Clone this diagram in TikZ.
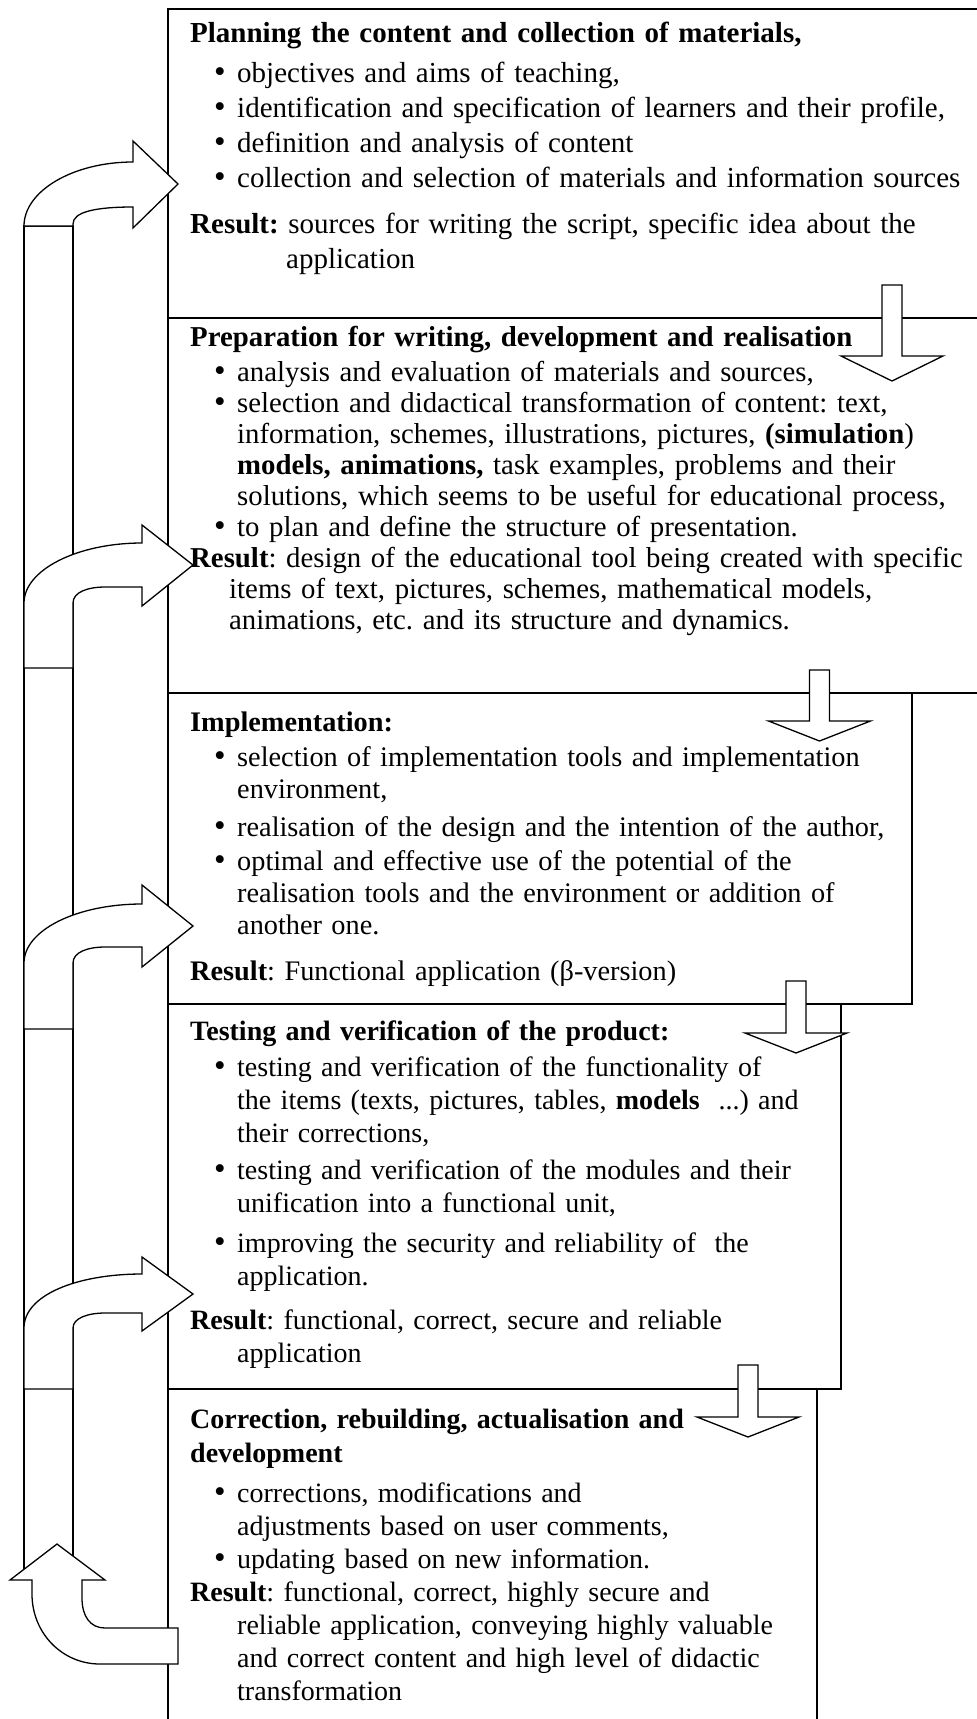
\documentclass[tikz,border=0pt]{standalone}
\usepackage{fontspec}
\setmainfont{Liberation Serif}

\newcommand\bl{\hspace*{24pt}\makebox[23pt][l]{\fontsize{33}{0}\selectfont\textbullet}}
\newcommand\cl{\hspace*{47pt}}
% hollow block arrow pointing down: x centre, shaft top, head base, tip
\newcommand\dropdown[4]{%
  \draw[hollow] (#1-10,#2) -- (#1+10,#2) -- (#1+10,#3) -- (#1+51,#3)
    -- (#1,#4) -- (#1-51,#3) -- (#1-10,#3) -- cycle;}

\tikzset{
  box/.style={line width=1.3pt},
  hollow/.style={draw,fill=white,line width=1.3pt,line join=miter},
  stage/.style 2 args={anchor=base west,inner sep=0pt,text width=800pt,align=left,
    font=\fontsize{#1}{#2}\selectfont\frenchspacing},
}

\begin{document}
\begin{tikzpicture}[x=1pt,y=-1pt]
  \useasboundingbox (0,0) rectangle (977,1719);
  % frames of the stages
  \draw[box] (990,9) -- (168,9) -- (168,1730);
  \draw[box] (168,318) -- (990,318);
  \draw[box] (168,693) -- (990,693);
  \draw[box] (168,1004) -- (912,1004) -- (912,693);
  \draw[box] (168,1389) -- (841,1389) -- (841,1004);
  \draw[box] (817,1389) -- (817,1730);

  % texts
  \node[stage={29}{35}] (plan) at (190,42) {%
    \textbf{Planning the content and collection of materials,}\\[5pt]
    \bl objectives and aims of teaching,\\
    \bl identification and specification of learners and their profile,\\
    \bl definition and analysis of content\\
    \bl collection and selection of materials and information sources\\[11pt]
    \textbf{Result:} sources for writing the script, specific idea about the\\
    \hspace*{96pt}application};
  \node[stage={28.8}{31}] (prep) at (190,346) {%
    \textbf{Preparation for writing, development and realisation}\\[4pt]
    \bl analysis and evaluation of materials and sources,\\
    \bl selection and didactical transformation of content: text,\\
    \cl information, schemes, illustrations, pictures, \textbf{(simulation})\\
    \cl \textbf{models, animations,} task examples, problems and their\\
    \cl solutions, which seems to be useful for educational process,\\
    \bl to plan and define the structure of presentation.\\
    \textbf{Result}: design of the educational tool being created with specific\\
    \hspace*{39pt}items of text, pictures, schemes, mathematical models,\\
    \hspace*{39pt}animations, etc. and its structure and dynamics.};
  \node[stage={28.3}{32}] (impl) at (190,731) {%
    \textbf{Implementation:}\\[3pt]
    \bl selection of implementation tools and implementation\\
    \cl environment,\\[6pt]
    \bl realisation of the design and the intention of the author,\\[2pt]
    \bl optimal and effective use of the potential of the\\
    \cl realisation tools and the environment or addition of\\
    \cl another one.\\[14pt]
    \textbf{Result}: Functional application (β-version)};
  \node[stage={28}{33}] (test) at (190,1040) {%
    \textbf{Testing and verification of the product:}\\[3pt]
    \bl testing and verification of the functionality of\\
    \cl the items (texts, pictures, tables, \textbf{models}\ \ ...) and\\
    \cl their corrections,\\[4pt]
    \bl testing and verification of the modules and their\\
    \cl unification into a functional unit,\\[7pt]
    \bl improving the security and reliability of\ \ the\\
    \cl application.\\[11pt]
    \textbf{Result}: functional, correct, secure and reliable\\
    \cl application};
  \node[stage={28}{33}] (corr) at (190,1428) {%
    \textbf{Correction, rebuilding, actualisation and}\\[1pt]
    \textbf{development}\\[7pt]
    \bl corrections, modifications and\\
    \cl adjustments based on user comments,\\
    \bl updating based on new information.\\
    \textbf{Result}: functional, correct, highly secure and\\
    \cl reliable application, conveying highly valuable\\
    \cl and correct content and high level of didactic\\
    \cl transformation};

  % arrows between the stages
  \dropdown{892}{285}{356}{381}
  \dropdown{819.5}{670}{721}{741}
  \dropdown{796}{981}{1033}{1053}
  \dropdown{748}{1365}{1417}{1437}

  % feedback bar and arrows back into the stages
  \draw[box] (24,226) rectangle (73,1575);
  \draw[hollow] (24,226) .. controls (24,191) and (73,162) .. (133,162)
    -- (133,141) -- (178,184) -- (133,228) -- (133,207)
    .. controls (95,207) and (73,212) .. (73,224) -- (73,226) -- cycle;
  \draw[hollow] (24,668) -- (24,603) .. controls (24,570) and (77,543) .. (142,543)
    -- (142,525) -- (193,565) -- (142,606) -- (142,587) -- (105,587)
    .. controls (88,587) and (73,592) .. (73,603) -- (73,668) -- cycle;
  \draw[hollow] (24,1029) -- (24,963) .. controls (24,930) and (77,904) .. (142,904)
    -- (142,885) -- (193,926) -- (142,967) -- (142,947) -- (105,947)
    .. controls (88,947) and (73,952) .. (73,963) -- (73,1029) -- cycle;
  \draw[hollow] (24,1389) -- (24,1328) .. controls (24,1295) and (77,1274) .. (142,1274)
    -- (142,1257) -- (193,1294) -- (142,1331) -- (142,1313) -- (105,1313)
    .. controls (88,1313) and (73,1318) .. (73,1328) -- (73,1389) -- cycle;
  \draw[hollow] (57,1544) -- (105,1580) -- (82,1580) -- (82,1598)
    .. controls (82,1616) and (90,1628) .. (105,1628) -- (178,1628) -- (178,1664)
    -- (100,1664) .. controls (62,1664) and (32,1633) .. (32,1594)
    -- (32,1580) -- (10,1580) -- cycle;
\end{tikzpicture}
\end{document}
